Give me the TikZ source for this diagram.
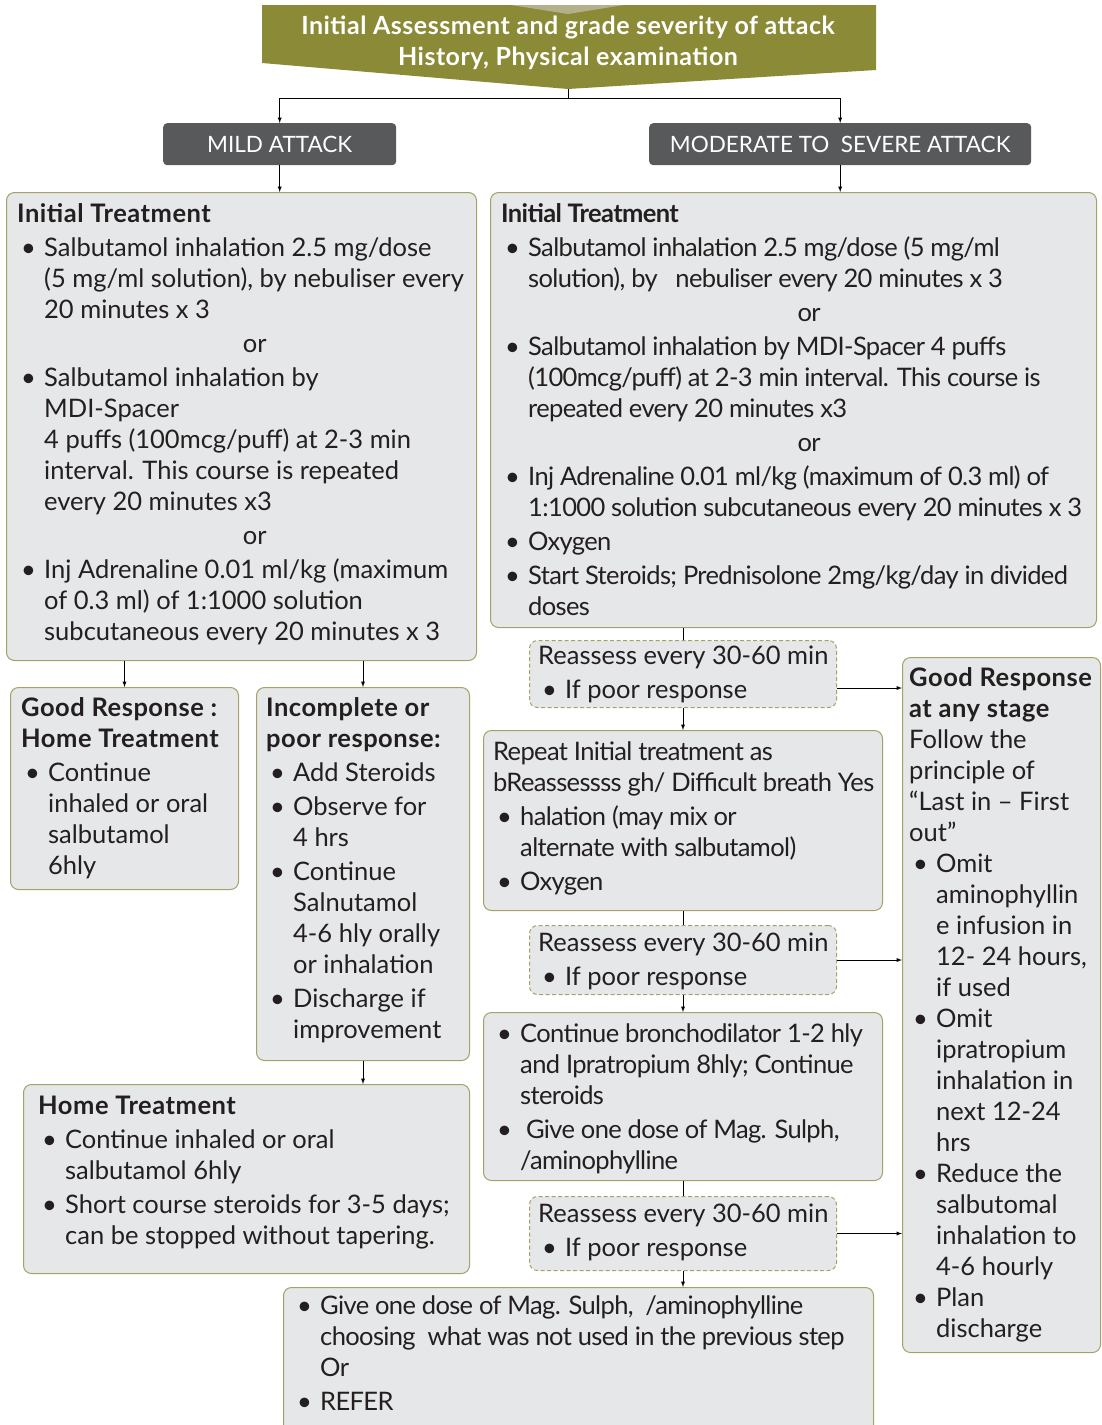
\documentclass[tikz,border=0pt]{standalone}
\usepackage{fontspec}
\setmainfont{Lato}[BoldFeatures={LetterSpace=2}]
\newfontfamily\tightfam{Lato}[LetterSpace=-2.5]
\usepackage{tikz}
\usetikzlibrary{shapes,arrows,calc}
\definecolor{banner}{HTML}{8B8A36}
\definecolor{bannerlt}{HTML}{B3B18C}
\definecolor{boxfill}{HTML}{E6E7E8}
\definecolor{boxline}{HTML}{A4A266}
\definecolor{tabgray}{HTML}{58595B}
\definecolor{ink}{HTML}{231F20}
\newcommand\txtsize{\fontsize{25.5}{31}\selectfont}
\newcommand\tightsize{\tightfam\fontsize{25.5}{31}\selectfont}
\newcommand\bul{\par\hangindent=27pt\hangafter=1\noindent\strut\hbox to 27pt{\hskip4pt\textbullet\hfil}\ignorespaces}
\newcommand\orl[1]{\par\noindent\hskip27pt\makebox[#1]{\strut or}}
\newcommand\hd[1]{\par\noindent\strut\textbf{#1}}
\newcommand\pl[1]{\par\noindent\strut #1}
\newcommand\cell[2][3pt]{\parbox[t]{700pt}{\setlength\parskip{#1}\setlength\parindent{0pt}#2}}
\tikzstyle{box} = [draw=boxline, fill=boxfill, line width=1pt, rounded corners=8pt, anchor=north west, inner sep=0pt]
\tikzstyle{dbox} = [box, dash pattern=on 4pt off 2.5pt]
\tikzstyle{tab} = [fill=tabgray, text=white, rounded corners=4pt, anchor=north west, inner sep=0pt, font=\fontsize{22.5}{27}\selectfont]
\tikzstyle{txt} = [anchor=north west, inner xsep=11pt, inner ysep=9pt, text=ink, font=\txtsize]
\tikzstyle{ttxt} = [txt, font=\tightsize]
\tikzstyle{line} = [draw, ->, >=latex, line width=0.9pt]

\begin{document}
\begin{tikzpicture}[x=1pt,y=-1pt]
\useasboundingbox (0,0) rectangle (1101,1425);
% banner
\fill[banner] (262,5) -- (876,5) -- (876,70) -- (568,89) -- (262,63) -- cycle;
\fill[bannerlt] (511,5) -- (624,5) -- (568,14) -- cycle;
\coordinate (hdrtip) at (568,89);
\node[text=white, align=center, font=\fontsize{25}{31}\selectfont\bfseries] (hdr) at (568,43)
  {Initial Assessment and grade severity of attack\\History, Physical examination};
% attack grades
\node[tab, minimum width=233, minimum height=42] (mild) at (163,123) {MILD ATTACK};
\node[tab, minimum width=382, minimum height=42] (mod) at (649,123) {MODERATE TO\ \ SEVERE ATTACK};
% boxes
\node[box, minimum width=470, minimum height=468] (lit) at (6,192) {};
\node[box, minimum width=606, minimum height=435] (rit) at (490,192) {};
\node[box, minimum width=228, minimum height=202] (good) at (10,687) {};
\node[box, minimum width=213, minimum height=373] (inc) at (256,687) {};
\node[box, minimum width=446, minimum height=189] (home) at (23,1084) {};
\node[dbox, minimum width=307, minimum height=67] (re1) at (529,640) {};
\node[box, minimum width=399, minimum height=180] (rep) at (483,730) {};
\node[dbox, minimum width=307, minimum height=69] (re2) at (529,925) {};
\node[box, minimum width=399, minimum height=168] (cont) at (483,1012) {};
\node[dbox, minimum width=307, minimum height=74] (re3) at (529,1196) {};
\node[box, minimum width=590, minimum height=160] (last) at (283,1287) {};
\node[box, minimum width=198, minimum height=695] (gra) at (902,657) {};
% texts
\node[txt] (lit-t) at (lit.north west) {\cell{%
  \hd{Initial Treatment}
  \bul Salbutamol inhalation 2.5 mg/dose\\(5 mg/ml solution), by nebuliser every\\20 minutes x 3
  \orl{421pt}
  \bul Salbutamol inhalation by\\MDI-Spacer\\4 puffs (100mcg/puff) at 2-3 min\\interval. This course is repeated\\every 20 minutes x3
  \orl{421pt}
  \bul Inj Adrenaline 0.01 ml/kg (maximum\\of 0.3 ml) of 1:1000 solution\\subcutaneous every 20 minutes x 3}};
\node[ttxt] (rit-t) at (rit.north west) {\cell{%
  \hd{Initial Treatment}
  \bul Salbutamol inhalation 2.5 mg/dose (5 mg/ml\\solution), by\ \ \ nebuliser every 20 minutes x 3
  \orl{562pt}
  \bul Salbutamol inhalation by MDI-Spacer 4 puffs\\(100mcg/puff) at 2-3 min interval. This course is\\repeated every 20 minutes x3
  \orl{562pt}
  \bul Inj Adrenaline 0.01 ml/kg (maximum of 0.3 ml) of\\1:1000 solution subcutaneous every 20 minutes x 3
  \bul Oxygen
  \bul Start Steroids; Prednisolone 2mg/kg/day in divided\\doses}};
\node[txt, inner ysep=8pt] (good-t) at (good.north west) {\cell{%
  \hd{Good Response :\\Home Treatment}
  \bul Continue\\inhaled or oral\\salbutamol\\6hly}};
\node[txt, inner xsep=10pt, inner ysep=8pt] (inc-t) at (inc.north west) {\cell{%
  \hd{Incomplete or\\poor response:}
  \bul Add Steroids
  \bul Observe for\\4 hrs
  \bul Continue\\Salnutamol\\4-6 hly orally\\or inhalation
  \bul Discharge if\\improvement}};
\node[txt, inner xsep=15pt] (home-t) at (home.north west) {\cell{%
  \hd{Home Treatment}
  \bul Continue inhaled or oral\\salbutamol 6hly
  \bul Short course steroids for 3-5 days;\\can be stopped without tapering.}};
\node[txt, inner xsep=9pt, inner ysep=3pt] (re1-t) at (re1.north west) {\cell{%
  \pl{Reassess every 30-60 min}
  \bul If poor response}};
\node[ttxt, inner xsep=10pt] (rep-t) at (rep.north west) {\cell{%
  \pl{Repeat Initial treatment as\\bReassessss gh/ Difficult breath Yes}
  \bul halation (may mix or\\alternate with salbutamol)
  \bul Oxygen}};
\node[txt, inner xsep=9pt, inner ysep=5pt] (re2-t) at (re2.north west) {\cell{%
  \pl{Reassess every 30-60 min}
  \bul If poor response}};
\node[ttxt, inner xsep=10pt] (cont-t) at (cont.north west) {\cell{%
  \bul Continue bronchodilator 1-2 hly\\and Ipratropium 8hly; Continue\\steroids
  \bul \ Give one dose of Mag. Sulph,\\/aminophylline}};
\node[txt, inner xsep=9pt, inner ysep=5pt] (re3-t) at (re3.north west) {\cell{%
  \pl{Reassess every 30-60 min}
  \bul If poor response}};
\node[ttxt, inner xsep=10pt, inner ysep=6pt] (last-t) at (last.north west) {\cell{%
  \bul Give one dose of Mag. Sulph,\ \ /aminophylline\\choosing\ \ what was not used in the previous step\\Or
  \bul REFER}};
\node[txt, inner xsep=7pt, inner ysep=8pt] (gra-t) at (gra.north west) {\cell[0pt]{%
  \hd{Good Response\\at any stage}
  \pl{Follow the\\principle of\\“Last in – First\\out”}
  \bul Omit\\aminophyllin\\e infusion in\\12- 24 hours,\\if used
  \bul Omit\\ipratropium\\inhalation in\\next 12-24\\hrs
  \bul Reduce the\\salbutomal\\inhalation to\\4-6 hourly
  \bul Plan\\discharge}};
% connectors
\draw[line] (hdrtip) -- ++(0,9) -| (mild.north);
\draw[line] (hdrtip) -- ++(0,9) -| (mod.north);
\draw[line] (mild.south) -- (mild.south |- lit.north);
\draw[line] (mod.south) -- (mod.south |- rit.north);
\draw[line] (good.north |- lit.south) -- (good.north);
\draw[line] (inc.north |- lit.south) -- (inc.north);
\draw[line] (inc.south) -- (inc.south |- home.north);
\draw (re1.north |- rit.south) -- (re1.north);
\draw[line] (re1.south) -- (rep.north);
\draw[line] ([yshift=-14pt]re1.east) -- ([yshift=-14pt]re1.east -| gra.west);
\draw (rep.south) -- (re2.north);
\draw[line] (re2.south) -- (cont.north);
\draw[line] (re2.east) -- (re2.east -| gra.west);
\draw (cont.south) -- (re3.north);
\draw[line] (re3.south) -- (re3.south |- last.north);
\draw[line] (re3.east) -- (re3.east -| gra.west);
\end{tikzpicture}
\end{document}
